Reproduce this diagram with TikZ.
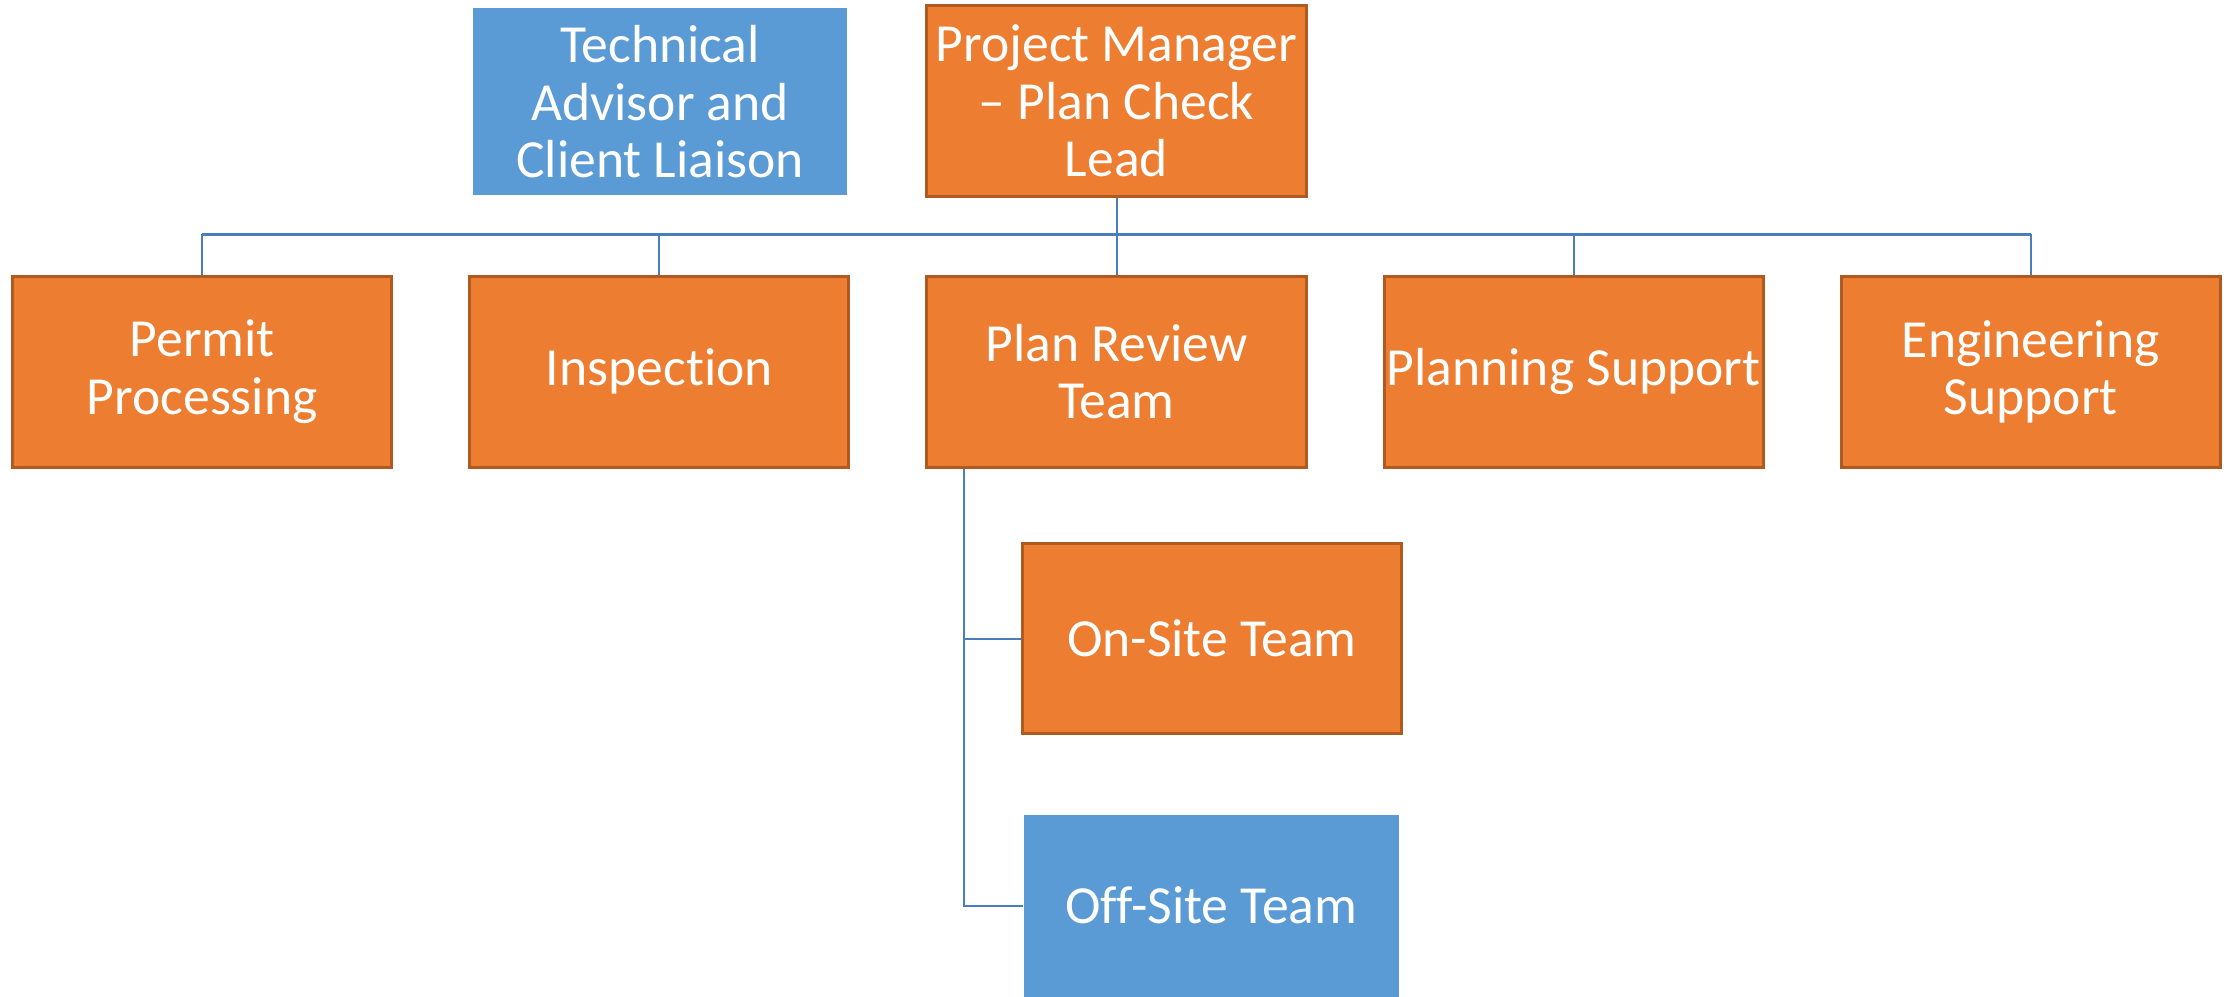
\documentclass[tikz,border=0pt]{standalone}
\usepackage{fontspec}
\setmainfont{Carlito}[Ligatures=NoCommon]
\usetikzlibrary{calc,positioning}

\definecolor{boxorange}{HTML}{ED7D31}
\definecolor{boxedge}{HTML}{AE5A21}
\definecolor{boxblue}{HTML}{5B9BD5}
\definecolor{linkblue}{HTML}{4A7EBB}

\begin{document}
\begin{tikzpicture}[x=0.01cm,y=-0.01cm]
		\tikzstyle{unit}=[rectangle,minimum width=2.66cm,minimum height=1.34cm,inner sep=0pt,
			align=center,text=white,font=\fontsize{10.7pt}{11.5pt}\selectfont]
		\tikzstyle{orangebox}=[unit,fill=boxorange,draw=boxedge,line width=0.6pt]
		\tikzstyle{bluebox}=[unit,fill=boxblue]
		\tikzstyle{link}=[draw=linkblue,line width=0.4pt]

		\useasboundingbox (0,0) rectangle (1568,700);

		%top row
		\node[bluebox,minimum width=2.63cm,minimum height=1.31cm] (advisor) at (463.5,71.5) {Technical\\Advisor and\\Client Liaison};
		\node[orangebox] (pm) at (784,71) {Project Manager\\– Plan Check\\Lead};

		%second row
		\node[orangebox] (permit) at (142,261) {Permit\\Processing};
		\node[orangebox] (inspect) at (463,261) {Inspection};
		\node[orangebox] (review) at (784,261) {Plan Review\\Team};
		\node[orangebox] (planning) at (1105,261) {Planning Support};
		\node[orangebox] (engineer) at (1426,261) {Engineering\\Support};

		%plan review teams
		\node[orangebox,minimum height=1.33cm] (onsite) at (851,448.5) {On-Site Team};
		\node[bluebox,minimum width=2.63cm,minimum height=1.28cm] (offsite) at (850.5,636) {Off-Site Team};

		%bus
		\coordinate (bus) at (784,165);
		\draw[link,line width=0.6pt] (permit.north |- bus) -- (engineer.north |- bus);
		\draw[link] (pm.south) -- (review.north);
		\foreach \n in {permit,inspect,planning,engineer}
			\draw[link] (bus) -| (\n.north);

		%branch
		\coordinate (tap) at ($(review.south west)+(27,0)$);
		\draw[link] (tap) |- (onsite.west);
		\draw[link] (tap) |- (offsite.west);
	\end{tikzpicture}
\end{document}
